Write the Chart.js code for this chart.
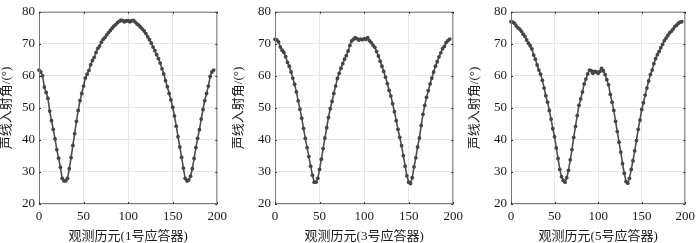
<!DOCTYPE html>
<html>
<head>
<meta charset="utf-8">
<script src="https://cdn.jsdelivr.net/npm/chart.js@4/dist/chart.umd.min.js"></script>
<style>
  body { margin: 0; background: #fff; }
  #wrap { position: relative; width: 700px; height: 243px; }
  canvas { position: absolute; top: 0; }
</style>
</head>
<body>
<div id="wrap">
  <canvas id="c1" width="232" height="243" style="left:0px"></canvas>
  <canvas id="c2" width="236" height="243" style="left:232px"></canvas>
  <canvas id="c3" width="232" height="243" style="left:468px"></canvas>
</div>
<script>
// Observation epochs (sampled every 2 epochs)
const epochs = [0,2,4,6,8,10,12,14,16,18,20,22,24,26,28,30,32,34,36,38,40,42,44,46,48,50,52,54,56,58,60,62,64,66,68,70,72,74,76,78,80,82,84,86,88,90,92,94,96,98,100,102,104,106,108,110,112,114,116,118,120,122,124,126,128,130,132,134,136,138,140,142,144,146,148,150,152,154,156,158,160,162,164,166,168,170,172,174,176,178,180,182,184,186,188,190,192,194,196];

// Incidence angle of the acoustic ray (deg), transponder 1
const angle1 = [61.8,61.2,60.0,56.5,54.8,53.0,49.0,46.0,43.3,40.3,
  37.0,34.3,31.5,28.0,27.2,27.2,28.0,31.0,34.5,38.3,
  42.0,45.8,49.2,52.3,54.5,56.8,59.3,60.5,61.7,63.5,
  64.8,65.8,67.3,68.6,69.3,70.5,71.4,72.0,72.8,73.5,
  74.2,74.9,75.5,76.0,76.6,77.0,77.4,77.2,76.9,77.2,
  77.2,76.9,77.2,77.3,76.8,76.2,75.8,75.2,74.6,74.0,
  73.2,72.2,71.3,70.2,69.0,67.9,66.6,65.4,64.0,62.2,
  60.6,58.5,56.6,54.5,52.5,50.2,47.5,44.3,41.0,37.8,
  34.6,31.2,28.0,27.2,27.5,28.7,31.0,34.2,37.6,40.5,
  43.2,46.5,49.5,52.3,54.5,56.8,59.8,61.2,61.8];

// transponder 3
const angle3 = [71.4,71.2,70.6,69.0,68.0,67.3,66.0,64.2,63.0,61.2,
  59.3,57.4,55.0,52.2,49.6,46.8,43.6,40.5,37.6,34.8,
  31.8,29.0,26.8,26.8,28.0,30.8,34.0,37.3,40.6,43.8,
  47.0,49.8,52.0,54.5,56.8,59.2,60.8,62.4,63.8,65.2,
  66.3,67.8,69.5,70.9,71.4,71.9,71.6,71.2,71.5,71.3,
  71.6,71.4,71.9,71.0,70.4,69.6,68.9,67.6,66.2,64.6,
  63.0,61.4,59.6,57.6,55.5,53.7,51.3,48.8,46.0,43.3,
  40.8,38.2,35.1,31.8,28.8,26.8,26.4,28.2,31.6,34.4,
  37.8,40.6,44.5,48.0,50.8,53.3,55.4,57.5,59.3,61.2,
  63.0,64.4,65.9,67.2,68.5,69.2,70.4,71.0,71.5];

// transponder 5
const angle5 = [76.9,76.8,76.4,75.6,75.0,74.6,73.9,73.0,72.3,71.2,
  70.2,69.4,68.4,66.5,65.2,63.4,61.8,60.5,58.6,56.2,
  53.8,51.8,49.2,46.5,43.5,41.0,37.5,34.2,30.8,28.5,
  27.4,26.8,28.2,30.5,33.8,37.0,40.8,44.2,47.6,50.8,
  52.8,55.0,57.5,59.0,60.6,61.8,61.6,60.8,61.4,61.2,
  60.8,61.4,62.3,61.6,60.4,58.8,57.2,54.2,51.8,49.2,
  45.8,42.6,39.3,36.2,32.6,29.6,27.0,26.5,28.0,30.8,
  33.5,36.6,39.8,43.3,46.2,49.5,51.6,54.0,56.2,58.4,
  60.4,61.8,63.8,65.4,66.6,67.6,68.8,69.8,71.0,71.8,
  72.6,73.4,73.9,74.6,75.4,75.8,76.4,76.8,76.9];

const xTicks = [0, 50, 100, 150, 200];
const yTicks = [20, 30, 40, 50, 60, 70, 80];
const yTitle = '声线入射角/(°)';
const xTitles = ['观测历元(1号应答器)', '观测历元(3号应答器)', '观测历元(5号应答器)'];

const FONT = '"Liberation Serif", "Times New Roman", "Noto Sans CJK SC", serif';

// Box around the plot area with small inward tick marks
const framePlugin = {
  id: 'frame',
  afterDraw(chart) {
    const { ctx, chartArea: a, scales } = chart;
    ctx.save();
    ctx.strokeStyle = '#7a7a7a';
    ctx.lineWidth = 1;
    ctx.strokeRect(a.left + 0.5, a.top + 0.5, a.right - a.left - 1, a.bottom - a.top - 1);
    ctx.strokeStyle = '#333';
    ctx.beginPath();
    xTicks.forEach(v => {
      const px = Math.round(scales.x.getPixelForValue(v)) + 0.5;
      ctx.moveTo(px, a.bottom); ctx.lineTo(px, a.bottom - 2);
      ctx.moveTo(px, a.top); ctx.lineTo(px, a.top + 2);
    });
    yTicks.forEach(v => {
      const py = Math.round(scales.y.getPixelForValue(v)) + 0.5;
      ctx.moveTo(a.left, py); ctx.lineTo(a.left + 2, py);
      ctx.moveTo(a.right, py); ctx.lineTo(a.right - 2, py);
    });
    ctx.stroke();
    ctx.restore();
  }
};

// Panel layouts: y axis width and right padding decide the plot area
const panels = [
  { id: 'c1', values: angle1, title: xTitles[0], yWidth: 39, padRight: 14 },
  { id: 'c2', values: angle3, title: xTitles[1], yWidth: 43, padRight: 14 },
  { id: 'c3', values: angle5, title: xTitles[2], yWidth: 43, padRight: 10 }
];

panels.forEach(p => {
  const points = epochs.map((e, i) => ({ x: e, y: p.values[i] }));
  new Chart(document.getElementById(p.id).getContext('2d'), {
    type: 'line',
    data: {
      datasets: [{
        data: points,
        borderColor: '#4d4d4d',
        borderWidth: 1.6,
        backgroundColor: '#444',
        pointRadius: 1.9,
        pointBorderWidth: 0,
        pointBackgroundColor: '#454545',
        tension: 0,
        clip: 4
      }]
    },
    options: {
      responsive: false,
      animation: false,
      events: [],
      layout: { autoPadding: false, padding: { left: 0, right: p.padRight, top: 5, bottom: 0 } },
      plugins: { legend: { display: false }, tooltip: { enabled: false } },
      scales: {
        x: {
          type: 'linear',
          min: 0,
          max: 200,
          afterBuildTicks: s => { s.ticks = xTicks.map(v => ({ value: v })); },
          afterFit: s => { s.height = 39; },
          border: { display: false },
          grid: { color: '#e6e6e6', drawTicks: false },
          ticks: { color: '#1a1a1a', padding: 5, font: { family: FONT, size: 13 }, maxRotation: 0 },
          title: { display: true, text: p.title, color: '#1a1a1a', padding: 0,
                   font: { family: FONT, size: 13, lineHeight: 1 } }
        },
        y: {
          min: 20,
          max: 80,
          afterBuildTicks: s => { s.ticks = yTicks.map(v => ({ value: v })); },
          afterFit: s => { s.width = p.yWidth; },
          border: { display: false },
          grid: { color: '#e6e6e6', drawTicks: false },
          ticks: { color: '#1a1a1a', padding: 4, font: { family: FONT, size: 13 } },
          title: { display: true, text: yTitle, color: '#1a1a1a', padding: 0,
                   font: { family: FONT, size: 13, lineHeight: 1 } }
        }
      }
    },
    plugins: [framePlugin]
  });
});
</script>
</body>
</html>
